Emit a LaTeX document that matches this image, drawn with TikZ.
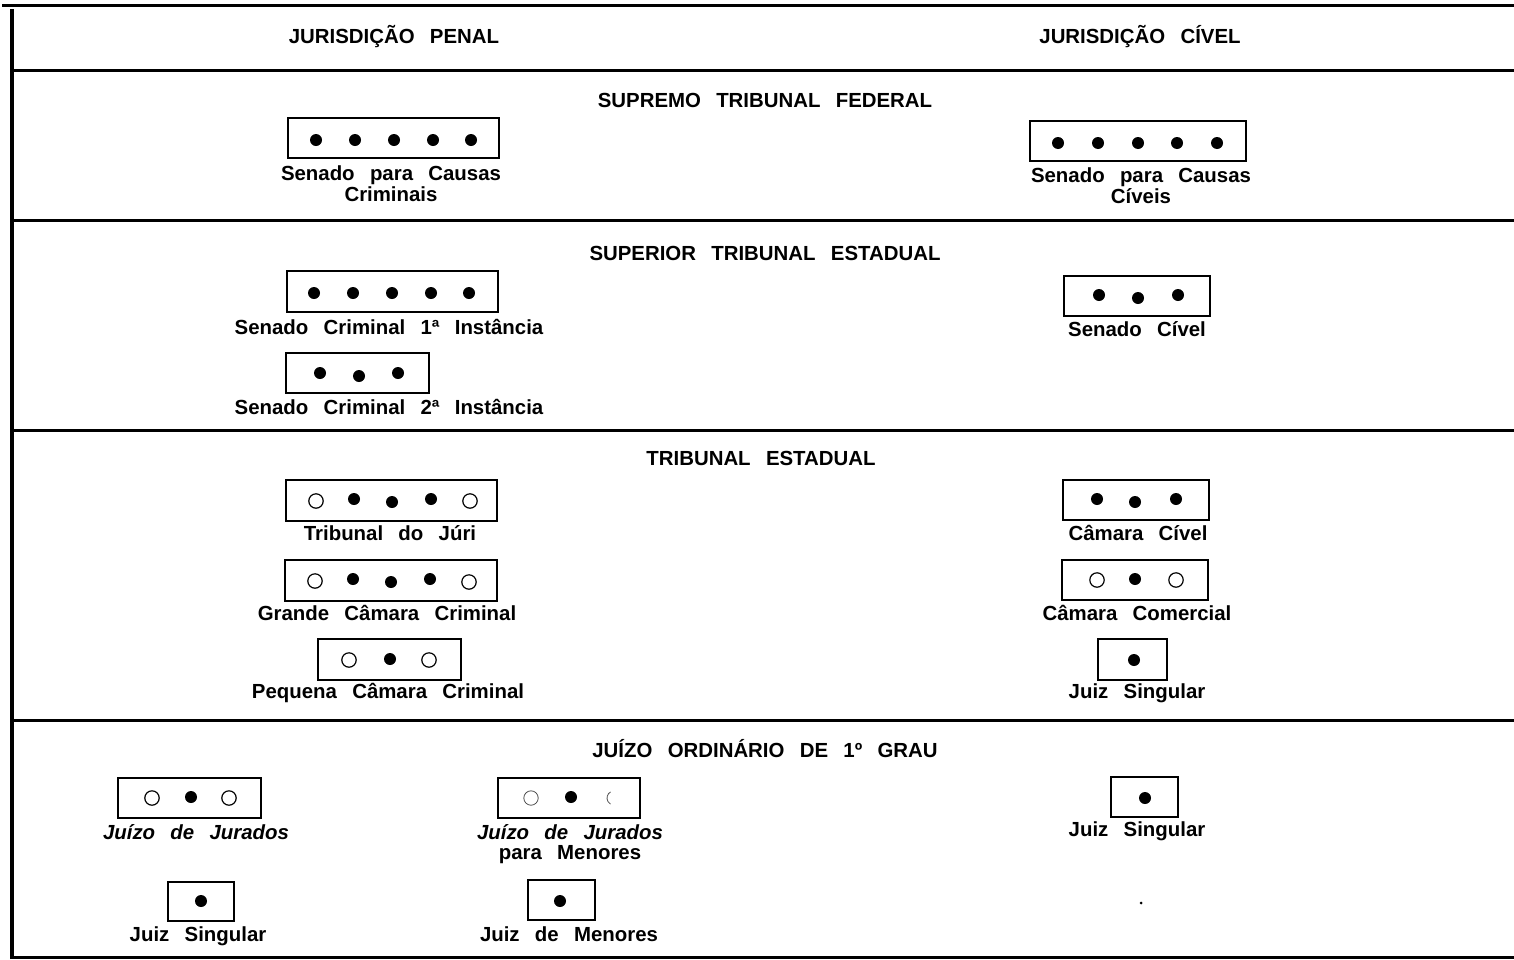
\documentclass[tikz,border=0pt]{standalone}
\usepackage{fontspec}
\setmainfont{Liberation Sans}[WordSpace={2.7,0,0}]
\begin{document}
\begin{tikzpicture}[x=0.5pt,y=-0.5pt,
  rule/.style={line width=1.5pt},
  courtbox/.style={draw, line width=0.9pt, inner sep=0pt},
  fdot/.style={circle, fill, inner sep=0pt, minimum width=5.4pt, minimum height=6pt},
  odot/.style={circle, draw, line width=0.6pt, inner sep=0pt, minimum size=7.2pt},
  lbl/.style={font=\fontsize{10.2}{10.5}\selectfont\bfseries, align=center, inner sep=0pt},
  lbli/.style={lbl, font=\fontsize{10.2}{10.5}\selectfont\bfseries\itshape},
]
\useasboundingbox (0,0) rectangle (1514,959);
% frame lines
\coordinate (tl) at (2,5);
\coordinate (tr) at (1514,5);
\draw[rule] (tl) -- (tr);
\coordinate (vl1) at (12,9);
\coordinate (vl2) at (12,959);
\draw[line width=1.6pt] (vl1) -- (vl2);
\foreach \y/\n in {70/a,220/b,430/c,720/d,957/e}{
  \coordinate (L\n1) at (12,\y);
  \coordinate (L\n2) at (1514,\y);
  \draw[rule] (L\n1) -- (L\n2);
}
% headers
\node[lbl] (hpen) at (394,37) {JURISDIÇÃO PENAL};
\node[lbl] (hciv) at (1140,37) {JURISDIÇÃO CÍVEL};
\node[lbl] (hstf) at (765,100) {SUPREMO TRIBUNAL FEDERAL};
\node[lbl] (hste) at (765,253) {SUPERIOR TRIBUNAL ESTADUAL};
\node[lbl] (hte) at (761,458) {TRIBUNAL ESTADUAL};
\node[lbl] (hjo) at (765,749) {JUÍZO ORDINÁRIO DE 1º GRAU};

% ---------- Supremo Tribunal Federal
\node[courtbox, minimum width=211*0.5pt, minimum height=40*0.5pt] (s1) at (393.5,138) {};
\foreach \x [count=\i] in {316,355,394,433,471} \node[fdot] (s1d\i) at (\x,140) {};
\node[lbl] (s1l) at (391,184) {Senado para Causas\\Criminais};

\node[courtbox, minimum width=216*0.5pt, minimum height=40*0.5pt] (s2) at (1138,141) {};
\foreach \x [count=\i] in {1058,1098,1138,1177,1217} \node[fdot] (s2d\i) at (\x,143) {};
\node[lbl] (s2l) at (1141,186) {Senado para Causas\\Cíveis};

% ---------- Superior Tribunal Estadual
\node[courtbox, minimum width=211*0.5pt, minimum height=41*0.5pt] (st1) at (392.5,291.5) {};
\foreach \x [count=\i] in {314,353,392,431,469} \node[fdot] (st1d\i) at (\x,293) {};
\node[lbl] (st1l) at (389,327) {Senado Criminal 1ª Instância};

\node[courtbox, minimum width=143*0.5pt, minimum height=40*0.5pt] (st2) at (357.5,373) {};
\foreach \x/\yy [count=\i] in {320/373,359/376,398/373} \node[fdot] (st2d\i) at (\x,\yy) {};
\node[lbl] (st2l) at (389,407) {Senado Criminal 2ª Instância};

\node[courtbox, minimum width=146*0.5pt, minimum height=40*0.5pt] (st3) at (1137,296) {};
\foreach \x/\yy [count=\i] in {1099/295,1138/298,1178/295} \node[fdot] (st3d\i) at (\x,\yy) {};
\node[lbl] (st3l) at (1137,329) {Senado Cível};

% ---------- Tribunal Estadual
\node[courtbox, minimum width=211*0.5pt, minimum height=41*0.5pt] (t1) at (391.5,500.5) {};
\node[odot] (t1d1) at (316,501) {};
\node[fdot] (t1d2) at (354,499) {};
\node[fdot] (t1d3) at (392,502) {};
\node[fdot] (t1d4) at (431,499) {};
\node[odot] (t1d5) at (470,501) {};
\node[lbl] (t1l) at (390,533) {Tribunal do Júri};

\node[courtbox, minimum width=212*0.5pt, minimum height=41*0.5pt] (t2) at (391,580.5) {};
\node[odot] (t2d1) at (315,581) {};
\node[fdot] (t2d2) at (353,579) {};
\node[fdot] (t2d3) at (391,582) {};
\node[fdot] (t2d4) at (430,579) {};
\node[odot] (t2d5) at (469,582) {};
\node[lbl] (t2l) at (387,613) {Grande Câmara Criminal};

\node[courtbox, minimum width=143*0.5pt, minimum height=41*0.5pt] (t3) at (389.5,659.5) {};
\node[odot] (t3d1) at (349,660) {};
\node[fdot] (t3d2) at (390,659) {};
\node[odot] (t3d3) at (429,660) {};
\node[lbl] (t3l) at (388,693) {Pequena Câmara Criminal};

\node[courtbox, minimum width=146*0.5pt, minimum height=40*0.5pt] (t4) at (1136,500) {};
\node[fdot] (t4d1) at (1097,499) {};
\node[fdot] (t4d2) at (1135,502) {};
\node[fdot] (t4d3) at (1176,499) {};
\node[lbl] (t4l) at (1138,533) {Câmara Cível};

\node[courtbox, minimum width=146*0.5pt, minimum height=40*0.5pt] (t5) at (1135,580) {};
\node[odot] (t5d1) at (1097,580) {};
\node[fdot] (t5d2) at (1135,579) {};
\node[odot] (t5d3) at (1176,580) {};
\node[lbl] (t5l) at (1137,613) {Câmara Comercial};

\node[courtbox, minimum width=69*0.5pt, minimum height=41*0.5pt] (t6) at (1132.5,659.5) {};
\node[fdot] (t6d1) at (1134,660) {};
\node[lbl] (t6l) at (1137,693) {Juiz Singular};

% ---------- Juizo Ordinario de 1o Grau
\node[courtbox, minimum width=143*0.5pt, minimum height=40*0.5pt] (j1) at (189.5,798) {};
\node[odot] (j1d1) at (152,798) {};
\node[fdot] (j1d2) at (191,797) {};
\node[odot] (j1d3) at (229,798) {};
\node[lbli] (j1l) at (196,832) {Juízo de Jurados};

\node[courtbox, minimum width=142*0.5pt, minimum height=40*0.5pt] (j2) at (569,798) {};
\node[odot, draw=black!70, line width=0.4pt] (j2d1) at (531,798) {};
\node[fdot] (j2d2) at (571,797) {};
\coordinate (j2d3) at (614,798);
\draw[line width=0.4pt, black!70] ([shift={(120:3.5pt)}]j2d3) arc (120:240:3.5pt);
\node[lbli] (j2l) at (570,832) {Juízo de Jurados};
\node[lbl] (j2l2) at (570,855) {para Menores};

\node[courtbox, minimum width=66*0.5pt, minimum height=39*0.5pt] (j3) at (201,901.5) {};
\node[fdot] (j3d1) at (201,901) {};
\node[lbl] (j3l) at (198,936) {Juiz Singular};

\node[courtbox, minimum width=67*0.5pt, minimum height=40*0.5pt] (j4) at (561.5,900) {};
\node[fdot] (j4d1) at (560,901) {};
\node[lbl] (j4l) at (569,934) {Juiz de Menores};

\node[courtbox, minimum width=67*0.5pt, minimum height=40*0.5pt] (j5) at (1144.5,797) {};
\node[fdot] (j5d1) at (1145,798) {};
\node[lbl] (j5l) at (1137,831) {Juiz Singular};

\node[circle, fill, inner sep=0pt, minimum size=1.5pt] (spk) at (1141,903) {};
\end{tikzpicture}
\end{document}
